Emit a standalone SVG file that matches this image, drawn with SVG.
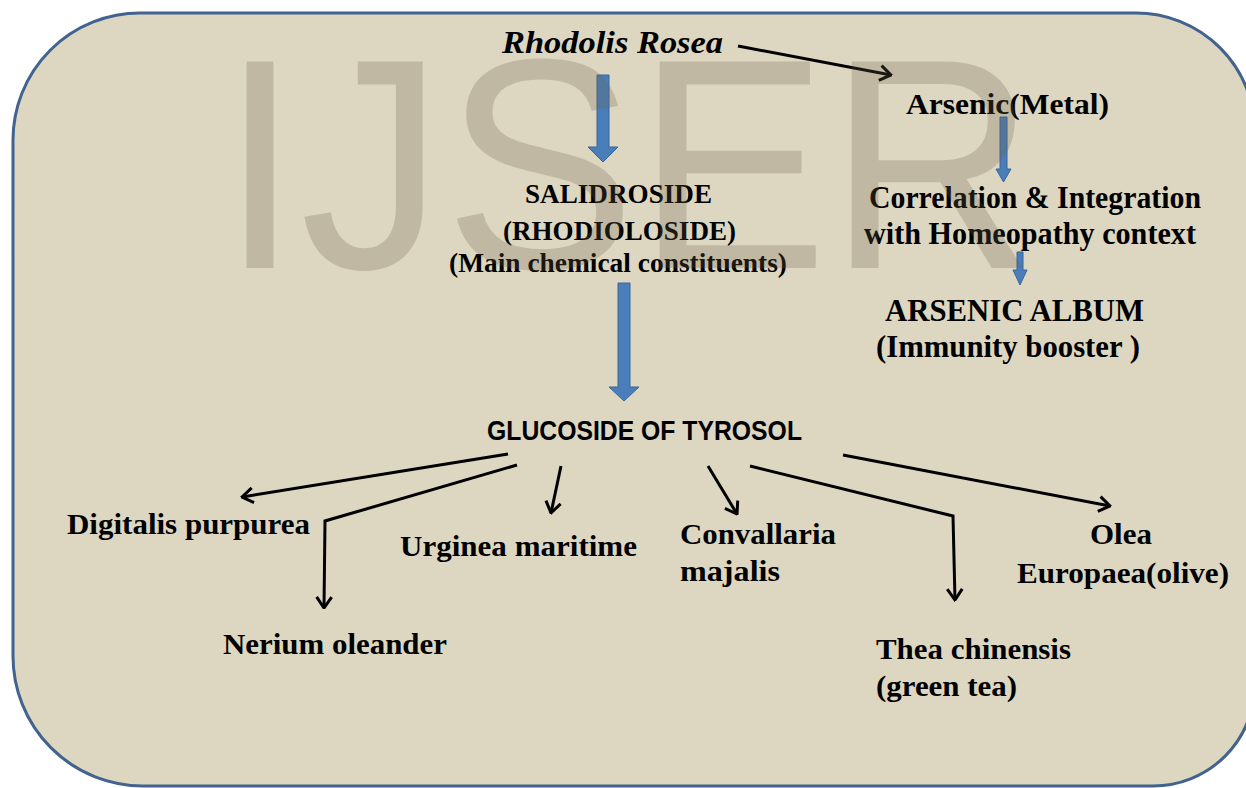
<svg xmlns="http://www.w3.org/2000/svg" width="1246" height="788" viewBox="0 0 1246 788">
<style>
.t{font-family:"Liberation Serif","Times New Roman",serif;font-weight:bold;fill:#000}
.s{font-family:"Liberation Sans",Arial,sans-serif;font-weight:bold;fill:#000}
.c{fill:none;stroke:#000;stroke-width:3;marker-end:url(#ah)}
.b{fill:#4a7ebb;stroke:#3a6598;stroke-width:1}
.wm{font-family:"Liberation Sans",Arial,sans-serif;fill:#6e6048;opacity:0.25}
</style>
<defs>
<marker id="ah" markerUnits="userSpaceOnUse" viewBox="0 0 14 18" refX="12.5" refY="9" markerWidth="14" markerHeight="18" orient="auto">
<path d="M1.5,1.5 L12.5,9 L1.5,16.5" fill="none" stroke="#000" stroke-width="3"/>
</marker>
</defs>
<rect width="1246" height="788" fill="#ffffff"/>
<path id="frame" d="M140,13 H1136 A119,119 0 0 1 1255,132 V684 A102,102 0 0 1 1153,786 H143 A130,130 0 0 1 13,656 V140 A127,127 0 0 1 140,13 Z" fill="#ddd7c2" stroke="#41638e" stroke-width="3"/>
<g id="connectors">
<path class="b" d="M597,75 H609 V147 H618 L603,162 L588,147 H597 Z"/>
<path class="b" d="M618,283 H630 V387 H639 L624,401 L609,387 H618 Z"/>
<path class="b" d="M1000,117 H1007 V169 H1011 L1003.5,182 L996,169 H1000 Z"/>
<path class="b" d="M1017,252 H1023 V270 H1027 L1020,285 L1013,270 H1017 Z"/>
<path class="c" d="M738,46 L891,75"/>
<path class="c" d="M508,454 L242,497"/>
<path class="c" d="M517,465 L325,521 L324,608"/>
<path class="c" d="M561,466 L551,513"/>
<path class="c" d="M708,466 L737,514"/>
<path class="c" d="M750,466 L953,516 L955,600"/>
<path class="c" d="M843,455 L1110,506"/>
</g>
<g id="n-rhodolis"><text class="t" font-style="italic" font-size="32" x="502" y="53" textLength="221" lengthAdjust="spacingAndGlyphs">Rhodolis Rosea</text></g>
<g id="n-salidroside">
<text class="t" font-size="28" x="525" y="203" textLength="187" lengthAdjust="spacingAndGlyphs">SALIDROSIDE</text>
<text class="t" font-size="28" x="503" y="240" textLength="233" lengthAdjust="spacingAndGlyphs">(RHODIOLOSIDE)</text>
<text class="t" font-size="28" x="449" y="272" textLength="338" lengthAdjust="spacingAndGlyphs">(Main chemical constituents)</text>
</g>
<g id="n-arsenic"><text class="t" font-size="29" x="906" y="114" textLength="203" lengthAdjust="spacingAndGlyphs">Arsenic(Metal)</text></g>
<g id="n-correlation">
<text class="t" font-size="32" x="869" y="208" textLength="332" lengthAdjust="spacingAndGlyphs">Correlation &amp; Integration</text>
<text class="t" font-size="32" x="864" y="244" textLength="332" lengthAdjust="spacingAndGlyphs">with Homeopathy context</text>
</g>
<g id="n-album">
<text class="t" font-size="31" x="885" y="321" textLength="259" lengthAdjust="spacingAndGlyphs">ARSENIC ALBUM</text>
<text class="t" font-size="31" x="876" y="357" textLength="264" lengthAdjust="spacingAndGlyphs">(Immunity booster )</text>
</g>
<g id="n-glucoside"><text class="s" font-size="28" x="487" y="440" textLength="315" lengthAdjust="spacingAndGlyphs">GLUCOSIDE OF TYROSOL</text></g>
<g id="n-digitalis"><text class="t" font-size="30" x="67" y="534" textLength="243" lengthAdjust="spacingAndGlyphs">Digitalis purpurea</text></g>
<g id="n-nerium"><text class="t" font-size="30" x="223" y="654" textLength="224" lengthAdjust="spacingAndGlyphs">Nerium oleander</text></g>
<g id="n-urginea"><text class="t" font-size="30" x="400" y="556" textLength="237" lengthAdjust="spacingAndGlyphs">Urginea maritime</text></g>
<g id="n-convallaria">
<text class="t" font-size="30" x="680" y="544" textLength="156" lengthAdjust="spacingAndGlyphs">Convallaria</text>
<text class="t" font-size="30" x="680" y="581" textLength="100" lengthAdjust="spacingAndGlyphs">majalis</text>
</g>
<g id="n-olea">
<text class="t" font-size="30" x="1090" y="544" textLength="62" lengthAdjust="spacingAndGlyphs">Olea</text>
<text class="t" font-size="30" x="1017" y="583" textLength="212" lengthAdjust="spacingAndGlyphs">Europaea(olive)</text>
</g>
<g id="n-thea">
<text class="t" font-size="30" x="876" y="659" textLength="195" lengthAdjust="spacingAndGlyphs">Thea chinensis</text>
<text class="t" font-size="30" x="876" y="696" textLength="141" lengthAdjust="spacingAndGlyphs">(green tea)</text>
</g>
<text class="wm" font-size="300" x="220" y="268" textLength="816" lengthAdjust="spacingAndGlyphs">IJSER</text>
</svg>
